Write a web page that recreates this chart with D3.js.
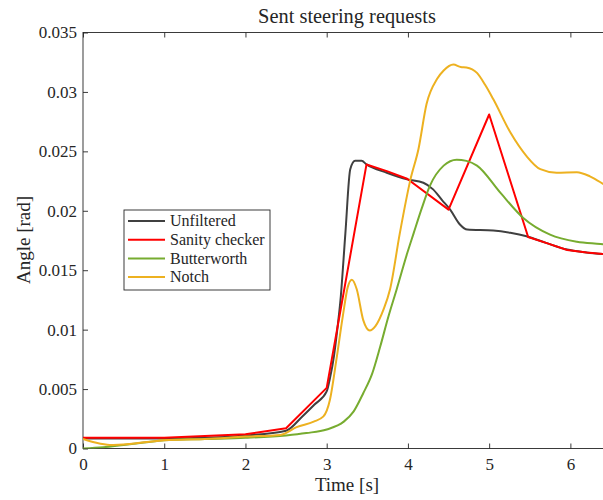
<!DOCTYPE html>
<html>
<head>
<meta charset="utf-8">
<script src="https://cdn.jsdelivr.net/npm/d3@7"></script>
<style>
  body { margin: 0; background: #fff; }
  svg { display: block; }
  text { font-family: "Liberation Serif", "Times New Roman", serif; fill: #262626; }
</style>
</head>
<body>
<div class="board"></div>
<script>
const W = 603, H = 500

// time [s] / angle [rad]
const unfilteredT = [0, 0.5, 1.0, 1.5, 2.0, 2.5, 2.7, 2.85, 3.0, 3.04, 3.09, 3.13, 3.17, 3.23, 3.29, 3.35, 3.43, 3.49, 3.74, 3.99, 4.19, 4.31, 4.42, 4.52, 4.64, 4.73, 5.05, 5.26, 5.46, 5.7, 5.96, 6.2, 6.5]
const unfilteredV = [0.00085, 0.00085, 0.00085, 0.0009, 0.0011, 0.0015, 0.0027, 0.0037, 0.0048, 0.0059, 0.0078, 0.0100, 0.0125, 0.0181, 0.0235, 0.0242, 0.0242, 0.0239, 0.0232, 0.02264, 0.02236, 0.0218, 0.0209, 0.0201, 0.01885, 0.01842, 0.01834, 0.01815, 0.01786, 0.0173, 0.01674, 0.0165, 0.0163]

const sanityT = [0, 1.0, 2.0, 2.5, 3.0, 3.49, 3.74, 3.99, 4.50, 5.0, 5.48, 5.7, 5.96, 6.2, 6.5]
const sanityV = [0.0009, 0.0009, 0.0012, 0.0017, 0.0051, 0.0239, 0.02334, 0.0227, 0.0201, 0.0281, 0.0178, 0.0173, 0.0167, 0.0165, 0.0163]

const butterT = [0, 0.25, 0.5, 0.75, 1.0, 1.5, 2.0, 2.5, 2.75, 3.0, 3.21, 3.33, 3.45, 3.56, 3.66, 3.76, 3.86, 3.99, 4.07, 4.17, 4.27, 4.44, 4.6, 4.72, 4.85, 5.14, 5.42, 5.75, 6.08, 6.37, 6.5]
const butterV = [0.0, 0.0001, 0.0003, 0.0005, 0.0007, 0.0008, 0.0009, 0.0011, 0.0013, 0.0016, 0.00226, 0.0031, 0.00465, 0.0063, 0.0086, 0.0111, 0.01336, 0.0164, 0.0181, 0.0202, 0.0221, 0.0238, 0.0243, 0.0242, 0.0238, 0.0215, 0.0194, 0.018, 0.0174, 0.0172, 0.0171]

const notchT = [0, 0.15, 0.33, 0.6, 1.0, 1.5, 2.0, 2.43, 2.63, 2.84, 2.96, 3.04, 3.12, 3.2, 3.26, 3.31, 3.37, 3.45, 3.53, 3.6, 3.7, 3.78, 3.9, 4.03, 4.13, 4.23, 4.36, 4.44, 4.56, 4.65, 4.72, 4.85, 4.95, 5.05, 5.26, 5.46, 5.63, 5.83, 6.08, 6.24, 6.37, 6.5]
const notchV = [0.0008, 0.0005, 0.0003, 0.0004, 0.0007, 0.0008, 0.001, 0.00114, 0.0018, 0.00226, 0.0027, 0.0041, 0.0075, 0.0112, 0.0136, 0.0142, 0.0134, 0.0108, 0.00993, 0.0103, 0.0117, 0.0134, 0.0181, 0.0226, 0.0252, 0.029, 0.0311, 0.0318, 0.0323, 0.0321, 0.03206, 0.0316, 0.0306, 0.0294, 0.0266, 0.0246, 0.0235, 0.0232, 0.02325, 0.0229, 0.0224, 0.0218]

const seriesNames = ["Unfiltered", "Sanity checker", "Butterworth", "Notch"]
const seriesColors = ["#404040", "#ff0000", "#77ac30", "#edb120"]

const xTicks = [0, 1, 2, 3, 4, 5, 6]
const yTicks = [0, 0.005, 0.01, 0.015, 0.02, 0.025, 0.03, 0.035]

const AXIS = "#262626"

let svg = d3.select(".board")
  .append("svg")
  .attr("width", W)
  .attr("height", H)

let x = d3.scaleLinear().domain([0, 6.5]).range([83, 611])
let y = d3.scaleLinear().domain([0, 0.035]).range([448.5, 32.5])

// box (right side falls outside the picture)
svg.append("rect")
  .attr("x", x(0)).attr("y", y(0.035))
  .attr("width", x(6.5) - x(0)).attr("height", y(0) - y(0.035))
  .attr("fill", "none").attr("stroke", AXIS).attr("stroke-width", 0.9)

function styleAxis(g) {
  g.select(".domain").remove()
  g.selectAll("line").attr("stroke", AXIS).attr("stroke-width", 0.9)
  g.selectAll("text").attr("fill", AXIS).attr("font-size", 17)
}

svg.append("g")
  .attr("transform", `translate(0, ${y(0)})`)
  .call(d3.axisBottom(x).tickValues(xTicks).tickSize(-5).tickPadding(9).tickFormat(d3.format("d")))
  .call(styleAxis)

svg.append("g")
  .attr("transform", `translate(0, ${y(0.035)})`)
  .call(d3.axisTop(x).tickValues(xTicks).tickSize(-5).tickFormat(""))
  .call(styleAxis)

svg.append("g")
  .attr("transform", `translate(${x(0)}, 0)`)
  .call(d3.axisLeft(y).tickValues(yTicks).tickSize(-5).tickPadding(6).tickFormat(d => String(+d.toFixed(3))))
  .call(styleAxis)

// lines
let lineGen = d3.line()
  .x(d => x(d[0]))
  .y(d => y(d[1]))

let series = [
  [unfilteredT, unfilteredV, d3.curveMonotoneX],
  [sanityT, sanityV, d3.curveLinear],
  [butterT, butterV, d3.curveMonotoneX],
  [notchT, notchV, d3.curveMonotoneX]
]

svg.append("defs").append("clipPath").attr("id", "plotclip")
  .append("rect")
  .attr("x", x(0)).attr("y", y(0.035))
  .attr("width", x(6.5) - x(0)).attr("height", y(0) - y(0.035))

let lines = svg.append("g").attr("clip-path", "url(#plotclip)")

series.forEach((s, i) => {
  let pts = s[0].map((t, j) => [t, s[1][j]])
  lines.append("path")
    .attr("d", lineGen.curve(s[2])(pts))
    .attr("fill", "none")
    .attr("stroke", seriesColors[i])
    .attr("stroke-width", 2)
    .attr("stroke-linejoin", "round")
})

// legend
let legend = svg.append("g")
legend.append("rect")
  .attr("x", 124).attr("y", 210)
  .attr("width", 146).attr("height", 80)
  .attr("fill", "white").attr("stroke", AXIS).attr("stroke-width", 0.9)

seriesNames.forEach((name, i) => {
  let ly = 221 + i * 18.7
  legend.append("line")
    .attr("x1", 128).attr("x2", 165)
    .attr("y1", ly).attr("y2", ly)
    .attr("stroke", seriesColors[i]).attr("stroke-width", 2)
  legend.append("text")
    .attr("x", 170).attr("y", ly)
    .attr("dy", "0.33em")
    .attr("font-size", 16)
    .text(name)
})

// titles
svg.append("text")
  .attr("x", 347).attr("y", 23)
  .attr("text-anchor", "middle")
  .attr("font-size", 20.4)
  .text("Sent steering requests")

svg.append("text")
  .attr("x", 347).attr("y", 491)
  .attr("text-anchor", "middle")
  .attr("font-size", 19)
  .text("Time [s]")

svg.append("text")
  .attr("transform", "translate(29.5, 240) rotate(-90)")
  .attr("text-anchor", "middle")
  .attr("font-size", 19)
  .text("Angle [rad]")
</script>
</body>
</html>
